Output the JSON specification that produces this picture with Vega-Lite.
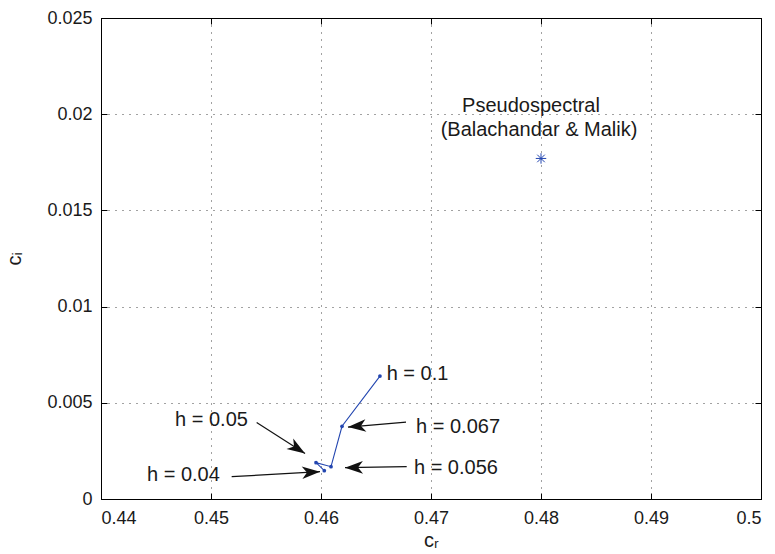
{
  "$schema": "https://vega.github.io/schema/vega-lite/v6.json",
  "width": 660,
  "height": 481,
  "autosize": "none",
  "padding": {"left": 101, "top": 18, "right": 14, "bottom": 55},
  "background": "white",
  "config": {
    "font": "Liberation Sans",
    "view": {"stroke": "black", "strokeWidth": 1},
    "axis": {
      "labelFont": "Liberation Sans",
      "labelFontSize": 18,
      "labelColor": "#1a1a1a",
      "titleFont": "Liberation Sans",
      "titleFontSize": 20,
      "titleFontWeight": "normal",
      "titleColor": "#1a1a1a",
      "domainColor": "black",
      "tickColor": "black",
      "tickSize": -6,
      "labelPadding": 16,
      "gridColor": "#444444",
      "gridDash": [1, 6],
      "gridOpacity": 1,
      "gridWidth": 1
    }
  },
  "datasets": {
    "convergence": [
      {"h": 0.1, "cr": 0.46536, "ci": 0.00639},
      {"h": 0.067, "cr": 0.46191, "ci": 0.00378},
      {"h": 0.056, "cr": 0.46091, "ci": 0.00168},
      {"h": 0.05, "cr": 0.45955, "ci": 0.00189},
      {"h": 0.04, "cr": 0.4603, "ci": 0.00147}
    ],
    "reference": [
      {"method": "Pseudospectral", "cr": 0.48, "ci": 0.0177}
    ],
    "arrows": [
      {"label": "h = 0.067", "cr": 0.46773, "ci": 0.004, "cr2": 0.46245, "ci2": 0.00374},
      {"label": "h = 0.056", "cr": 0.46779, "ci": 0.00168, "cr2": 0.46218, "ci2": 0.00163},
      {"label": "h = 0.05", "cr": 0.45415, "ci": 0.00397, "cr2": 0.45855, "ci2": 0.00237},
      {"label": "h = 0.04", "cr": 0.45188, "ci": 0.00116, "cr2": 0.45991, "ci2": 0.00142}
    ],
    "labels": [
      {"text": "h = 0.1", "cr": 0.46597, "ci": 0.0065},
      {"text": "h = 0.067", "cr": 0.46864, "ci": 0.00374},
      {"text": "h = 0.056", "cr": 0.46845, "ci": 0.00161},
      {"text": "h = 0.05", "cr": 0.44673, "ci": 0.00411},
      {"text": "h = 0.04", "cr": 0.44418, "ci": 0.00125}
    ],
    "caption": [
      {"text": "Pseudospectral", "cr": 0.47909, "ci": 0.02043},
      {"text": "(Balachandar & Malik)", "cr": 0.47982, "ci": 0.01918}
    ]
  },
  "layer": [
    {
      "data": {"name": "convergence"},
      "mark": {"type": "line", "color": "#2346b0", "strokeWidth": 1.1},
      "encoding": {
        "x": {
          "field": "cr", "type": "quantitative",
          "scale": {"domain": [0.44, 0.5], "nice": false, "zero": false},
          "axis": {"title": "cᵣ", "values": [0.44, 0.45, 0.46, 0.47, 0.48, 0.49, 0.5], "format": "~g", "grid": true, "titlePadding": 3}
        },
        "y": {
          "field": "ci", "type": "quantitative",
          "scale": {"domain": [0, 0.025], "nice": false},
          "axis": {"title": "cᵢ", "values": [0, 0.005, 0.01, 0.015, 0.02, 0.025], "format": "~g", "grid": true, "labelPadding": 15, "titlePadding": 22}
        },
        "order": {"field": "h", "sort": "descending"}
      }
    },
    {
      "data": {"name": "convergence"},
      "mark": {"type": "point", "filled": true, "opacity": 1, "color": "#2346b0", "size": 14},
      "encoding": {
        "x": {"field": "cr", "type": "quantitative", "scale": {"domain": [0.44, 0.5], "nice": false, "zero": false}, "axis": null},
        "y": {"field": "ci", "type": "quantitative", "scale": {"domain": [0, 0.025], "nice": false}, "axis": null}
      }
    },
    {
      "data": {"name": "reference"},
      "mark": {
        "type": "point",
        "shape": "M-1,0L1,0M0,-1L0,1M-0.72,-0.72L0.72,0.72M-0.72,0.72L0.72,-0.72",
        "filled": false,
        "opacity": 1,
        "color": "#2346b0",
        "strokeWidth": 1,
        "size": 110
      },
      "encoding": {
        "x": {"field": "cr", "type": "quantitative", "scale": {"domain": [0.44, 0.5], "nice": false, "zero": false}, "axis": null},
        "y": {"field": "ci", "type": "quantitative", "scale": {"domain": [0, 0.025], "nice": false}, "axis": null}
      }
    },
    {
      "data": {"name": "arrows"},
      "mark": {"type": "rule", "color": "#111111", "strokeWidth": 1.2},
      "encoding": {
        "x": {"field": "cr", "type": "quantitative", "scale": {"domain": [0.44, 0.5], "nice": false, "zero": false}, "axis": null},
        "y": {"field": "ci", "type": "quantitative", "scale": {"domain": [0, 0.025], "nice": false}, "axis": null},
        "x2": {"field": "cr2"},
        "y2": {"field": "ci2"}
      }
    },
    {
      "data": {"name": "arrows"},
      "mark": {
        "type": "point",
        "shape": "M0,0L-2,-0.7L-1.45,0L-2,0.7Z",
        "filled": true,
        "opacity": 1,
        "color": "#111111",
        "size": 324
      },
      "encoding": {
        "x": {"field": "cr2", "type": "quantitative", "scale": {"domain": [0.44, 0.5], "nice": false, "zero": false}, "axis": null},
        "y": {"field": "ci2", "type": "quantitative", "scale": {"domain": [0, 0.025], "nice": false}, "axis": null},
        "angle": {
          "field": "label", "type": "nominal",
          "scale": {"type": "ordinal", "domain": ["h = 0.067", "h = 0.056", "h = 0.05", "h = 0.04"], "range": [175.1, 179.1, 32.4, 356.8]},
          "legend": null
        }
      }
    },
    {
      "data": {"name": "labels"},
      "mark": {"type": "text", "align": "left", "baseline": "middle", "font": "Liberation Sans", "fontSize": 20, "color": "#1a1a1a"},
      "encoding": {
        "x": {"field": "cr", "type": "quantitative", "scale": {"domain": [0.44, 0.5], "nice": false, "zero": false}, "axis": null},
        "y": {"field": "ci", "type": "quantitative", "scale": {"domain": [0, 0.025], "nice": false}, "axis": null},
        "text": {"field": "text"}
      }
    },
    {
      "data": {"name": "caption"},
      "mark": {"type": "text", "align": "center", "baseline": "middle", "font": "Liberation Sans", "fontSize": 20, "color": "#1a1a1a"},
      "encoding": {
        "x": {"field": "cr", "type": "quantitative", "scale": {"domain": [0.44, 0.5], "nice": false, "zero": false}, "axis": null},
        "y": {"field": "ci", "type": "quantitative", "scale": {"domain": [0, 0.025], "nice": false}, "axis": null},
        "text": {"field": "text"}
      }
    },
    {
      "data": {"name": "convergence"},
      "mark": {"type": "point", "opacity": 0},
      "encoding": {
        "x": {
          "field": "cr", "type": "quantitative",
          "scale": {"domain": [0.44, 0.5], "nice": false, "zero": false},
          "axis": {"orient": "top", "title": null, "labels": false, "grid": false, "values": [0.44, 0.45, 0.46, 0.47, 0.48, 0.49, 0.5]}
        },
        "y": {
          "field": "ci", "type": "quantitative",
          "scale": {"domain": [0, 0.025], "nice": false},
          "axis": {"orient": "right", "title": null, "labels": false, "grid": false, "values": [0, 0.005, 0.01, 0.015, 0.02, 0.025]}
        }
      }
    }
  ],
  "resolve": {"axis": {"x": "independent", "y": "independent"}}
}
